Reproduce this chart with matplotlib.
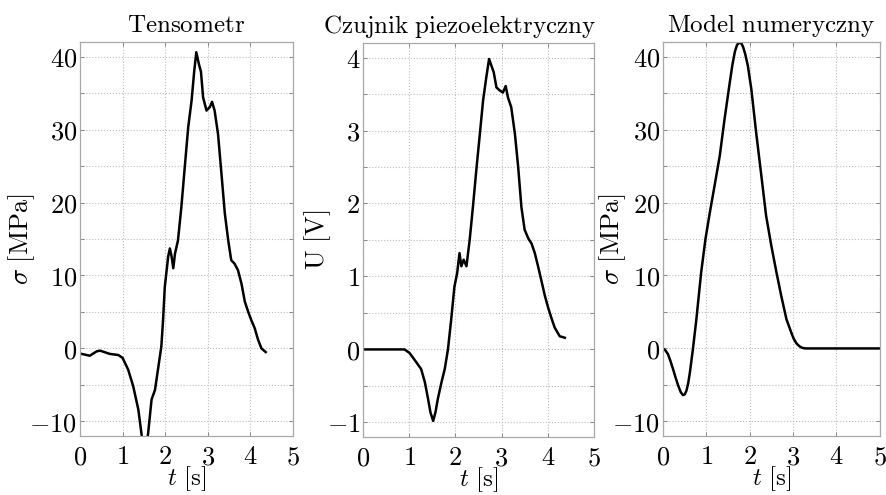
import matplotlib
matplotlib.use('Agg')
import matplotlib.pyplot as plt
from matplotlib.ticker import MultipleLocator, FuncFormatter

plt.rcParams['mathtext.fontset'] = 'cm'
plt.rcParams['font.family'] = ['DejaVu Serif']

# Tensometr - sigma [MPa]
t_tens = [0.0, 0.23, 0.39, 0.47, 0.70, 0.90, 1.00, 1.13, 1.25, 1.37, 1.45, 1.52,
          1.60, 1.68, 1.76, 1.84, 1.91, 1.95, 1.99, 2.07, 2.11, 2.15, 2.19, 2.23,
          2.30, 2.38, 2.46, 2.54, 2.62, 2.68, 2.73, 2.79, 2.84, 2.89, 2.97, 3.05,
          3.10, 3.16, 3.24, 3.32, 3.40, 3.48, 3.55, 3.63, 3.71, 3.79, 3.87, 3.95,
          4.02, 4.10, 4.18, 4.26, 4.34, 4.36]
s_tens = [-0.7, -1.0, -0.4, -0.3, -0.75, -0.9, -1.3, -2.9, -5.2, -8.4, -12.0, -15.0,
          -11.6, -7.0, -5.7, -2.5, 0.3, 3.9, 8.4, 12.6, 13.7, 12.6, 11.0, 13.0,
          14.8, 19.4, 24.9, 30.3, 34.0, 37.9, 40.6, 39.0, 37.9, 34.4, 32.6, 33.1,
          33.8, 32.6, 29.4, 24.0, 18.5, 14.8, 12.1, 11.6, 10.7, 8.9, 6.4, 5.0,
          3.9, 2.8, 1.2, 0.0, -0.4, -0.5]

# Czujnik piezoelektryczny - U [V]
t_piezo = [0.0, 0.90, 1.01, 1.16, 1.26, 1.34, 1.41, 1.46, 1.52, 1.57, 1.62, 1.70,
           1.77, 1.84, 1.91, 1.98, 2.04, 2.09, 2.13, 2.18, 2.24, 2.31, 2.38, 2.46,
           2.53, 2.60, 2.67, 2.73, 2.78, 2.83, 2.89, 2.96, 3.03, 3.09, 3.14, 3.21,
           3.29, 3.36, 3.43, 3.50, 3.58, 3.65, 3.72, 3.79, 3.86, 3.94, 4.01, 4.08,
           4.15, 4.26, 4.37]
u_piezo = [0.0, 0.0, -0.05, -0.18, -0.27, -0.45, -0.68, -0.86, -0.98, -0.86, -0.68, -0.45,
           -0.27, 0.0, 0.41, 0.86, 1.05, 1.32, 1.14, 1.23, 1.14, 1.50, 1.95, 2.50,
           2.95, 3.41, 3.73, 3.98, 3.89, 3.80, 3.59, 3.55, 3.52, 3.61, 3.45, 3.32,
           2.95, 2.50, 1.95, 1.64, 1.52, 1.45, 1.32, 1.14, 0.95, 0.73, 0.57, 0.43,
           0.30, 0.18, 0.16]

# Model numeryczny - sigma [MPa]
t_model = [0.0, 0.06, 0.115, 0.17, 0.23, 0.29, 0.35, 0.41, 0.46, 0.50, 0.54, 0.58,
           0.62, 0.69, 0.77, 0.88, 0.98, 1.08, 1.19, 1.31, 1.42, 1.54, 1.60, 1.66,
           1.71, 1.76, 1.81, 1.85, 1.90, 1.96, 2.04, 2.15, 2.27, 2.38, 2.50, 2.62,
           2.73, 2.85, 2.96, 3.02, 3.08, 3.14, 3.19, 3.25, 3.31, 4.0, 5.0]
s_model = [0.0, -0.3, -0.8, -1.7, -2.8, -4.0, -5.1, -6.0, -6.4, -6.3, -5.8, -4.8,
           -3.3, -0.1, 4.0, 10.4, 15.0, 18.6, 22.3, 26.4, 31.4, 36.4, 38.8, 40.7,
           41.6, 41.9, 41.8, 41.3, 40.3, 38.7, 35.5, 29.6, 23.7, 18.2, 14.1, 10.4,
           7.2, 4.0, 2.2, 1.3, 0.7, 0.35, 0.14, 0.03, 0.0, 0.0, 0.0]

fig = plt.figure(figsize=(8.87, 4.95), dpi=100)
ax1 = fig.add_axes([0.0902, 0.1192, 0.2401, 0.796])
ax2 = fig.add_axes([0.4092, 0.1172, 0.2604, 0.796])
ax3 = fig.add_axes([0.7475, 0.1192, 0.2441, 0.796])

fmt = FuncFormatter(lambda v, p: '$%g$' % v)
fs = 19

def style(ax, ymaj, ymin):
    ax.set_xlim(0, 5)
    ax.xaxis.set_major_locator(MultipleLocator(1))
    ax.yaxis.set_major_locator(MultipleLocator(ymaj))
    ax.yaxis.set_minor_locator(MultipleLocator(ymin))
    ax.xaxis.set_major_formatter(fmt)
    ax.yaxis.set_major_formatter(fmt)
    ax.grid(True, which='both', linestyle=':', color='#bdbdbd', linewidth=0.8)
    ax.tick_params(which='both', direction='in', top=True, right=True,
                   color='#777777', length=3, width=0.6, labelsize=fs)
    ax.tick_params(axis='y', pad=2)
    ax.tick_params(axis='x', pad=6)
    for sp in ax.spines.values():
        sp.set_color('#a8a8a8')
        sp.set_linewidth(0.9)
    ax.set_xlabel(r'$t\ [\mathrm{s}]$', fontsize=fs - 1, labelpad=-4)

ax1.plot(t_tens, s_tens, color='black', linewidth=1.8)
style(ax1, 10, 5)
ax1.set_ylim(-12, 42)
ax1.set_ylabel(r'$\sigma\ [\mathrm{MPa}]$', fontsize=fs)
ax1.yaxis.set_label_coords(-0.20, 0.5)
ax1.set_title(r'$\mathrm{Tensometr}$', fontsize=fs - 1, pad=7)

ax2.plot(t_piezo, u_piezo, color='black', linewidth=1.8)
style(ax2, 1, 0.5)
ax2.set_ylim(-1.2, 4.2)
ax2.set_ylabel(r'$\mathrm{U}\ [\mathrm{V}]$', fontsize=fs)
ax2.yaxis.set_label_coords(-0.13, 0.5)
ax2.set_title(r'$\mathrm{Czujnik\ piezoelektryczny}$', fontsize=fs - 1, pad=7, x=0.42)

ax3.plot(t_model, s_model, color='black', linewidth=1.8)
style(ax3, 10, 5)
ax3.set_ylim(-12, 42)
ax3.set_ylabel(r'$\sigma\ [\mathrm{MPa}]$', fontsize=fs)
ax3.yaxis.set_label_coords(-0.16, 0.5)
ax3.set_title(r'$\mathrm{Model\ numeryczny}$', fontsize=fs - 1, pad=7)

fig.savefig('out.png', dpi=100)
